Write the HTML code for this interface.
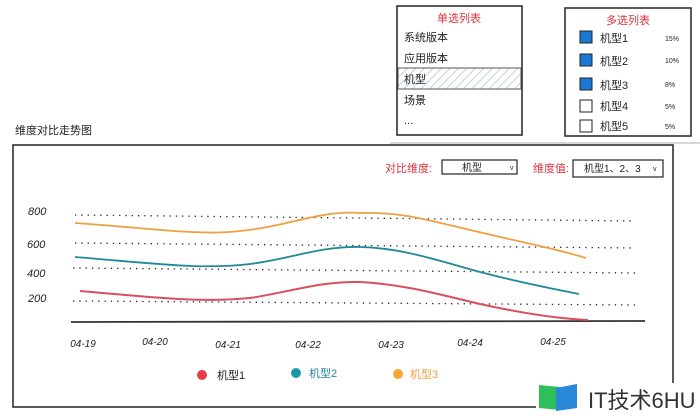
<!DOCTYPE html>
<html><head><meta charset="utf-8"><style>
body{margin:0;background:#fff;width:700px;height:418px;overflow:hidden}
svg{display:block}
text{font-family:"Liberation Sans","Noto Sans CJK SC",sans-serif}
</style></head><body>
<svg width="700" height="418" viewBox="0 0 700 418">
<defs><pattern id="h" width="6" height="6" patternUnits="userSpaceOnUse" patternTransform="rotate(45)"><line x1="0" y1="0" x2="0" y2="6" stroke="#b8c4d4" stroke-width="1.5"/></pattern></defs>
<line x1="390" y1="143" x2="700" y2="143" stroke="#ccc" stroke-width="1.5"/>
<!-- single select -->
<rect x="397" y="6" width="125" height="129" fill="#fff" stroke="#222" stroke-width="1.5"/>
<text x="459" y="22" font-size="11" fill="#d9333f" text-anchor="middle">单选列表</text>
<text x="404" y="41" font-size="11" fill="#222">系统版本</text>
<text x="404" y="62" font-size="11" fill="#222">应用版本</text>
<rect x="398" y="68" width="123" height="21" fill="url(#h)" stroke="#555" stroke-width="1"/>
<text x="404" y="83" font-size="11" fill="#222">机型</text>
<text x="404" y="104" font-size="11" fill="#222">场景</text>
<text x="404" y="124" font-size="11" fill="#222">...</text>
<!-- multi select -->
<rect x="565" y="8" width="126" height="128" fill="#fff" stroke="#222" stroke-width="1.5"/>
<text x="628" y="24" font-size="11" fill="#d9333f" text-anchor="middle">多选列表</text>
<g font-size="11" fill="#222">
<rect x="580" y="31" width="12" height="12" fill="#1a7ad4" stroke="#222"/><text x="600" y="42">机型1</text><text x="665" y="41" font-size="7">15%</text>
<rect x="580" y="54" width="12" height="12" fill="#1a7ad4" stroke="#222"/><text x="600" y="65">机型2</text><text x="665" y="63" font-size="7">10%</text>
<rect x="580" y="78" width="12" height="12" fill="#1a7ad4" stroke="#222"/><text x="600" y="89">机型3</text><text x="665" y="87" font-size="7">8%</text>
<rect x="580" y="100" width="12" height="12" fill="#fff" stroke="#222"/><text x="600" y="110">机型4</text><text x="665" y="109" font-size="7">5%</text>
<rect x="580" y="120" width="12" height="12" fill="#fff" stroke="#222"/><text x="600" y="130">机型5</text><text x="665" y="129" font-size="7">5%</text>
</g>
<text x="15" y="134" font-size="11" fill="#222">维度对比走势图</text>
<rect x="13" y="145" width="660" height="262" fill="none" stroke="#222" stroke-width="1.5"/>
<text x="385" y="172" font-size="11" fill="#d9333f">对比维度:</text>
<rect x="442" y="160" width="75" height="14" fill="#fff" stroke="#222" stroke-width="1.2"/>
<text x="472" y="171" font-size="10" fill="#222" text-anchor="middle">机型</text><text x="510" y="170" font-size="7" fill="#222">v</text>
<text x="533" y="172" font-size="11" fill="#d9333f">维度值:</text>
<rect x="573" y="160" width="90" height="17" fill="#fff" stroke="#222" stroke-width="1.2"/>
<text x="584" y="172" font-size="10" fill="#222">机型1、2、3</text><text x="653" y="171" font-size="7" fill="#222">v</text>
<g stroke="#222" stroke-width="1.3" stroke-dasharray="1.3 5">
<line x1="75" y1="215" x2="635" y2="221"/><line x1="75" y1="243" x2="635" y2="248"/>
<line x1="73" y1="268" x2="638" y2="273"/><line x1="73" y1="301" x2="638" y2="305"/>
</g>
<g font-size="11" fill="#222" font-style="italic">
<text x="28" y="215">800</text><text x="27" y="248">600</text><text x="27" y="277">400</text><text x="28" y="302">200</text>
</g>
<line x1="71" y1="322" x2="645" y2="321" stroke="#333" stroke-width="1.8"/>
<g font-size="10" fill="#222" font-style="italic" text-anchor="middle">
<text x="83" y="347">04-19</text><text x="155" y="345">04-20</text><text x="228" y="348">04-21</text><text x="308" y="348">04-22</text><text x="391" y="348">04-23</text><text x="470" y="346">04-24</text><text x="553" y="345">04-25</text>
</g>
<path d="M75,223 C150,228 200,236 240,231 C290,226 320,210 360,213 C400,212 420,218 470,230 C530,244 560,250 586,258" fill="none" stroke="#f0a040" stroke-width="1.8"/>
<path d="M75,257 C150,263 200,270 250,264 C290,259 320,246 360,247 C400,248 430,258 480,272 C530,285 560,290 579,294" fill="none" stroke="#1e8a98" stroke-width="1.8"/>
<path d="M80,291 C150,297 200,303 250,298 C290,292 320,281 360,282 C400,284 430,292 480,304 C530,315 565,319 588,320" fill="none" stroke="#d8505c" stroke-width="2"/>
<circle cx="202" cy="375" r="5" fill="#e83b47"/><text x="217" y="379" font-size="11" fill="#222">机型1</text>
<circle cx="296" cy="373" r="5" fill="#1998a8"/><text x="309" y="377" font-size="11" fill="#1e8a98">机型2</text>
<circle cx="398" cy="374" r="5" fill="#f6a434"/><text x="410" y="378" font-size="11" fill="#f0a040">机型3</text>
<rect x="536" y="383" width="164" height="35" fill="#fff"/>
<path d="M539,385 L560,387 L560,410 L539,408Z" fill="#2fbf5a"/>
<path d="M556,388 L577,384 L577,408 L556,411Z" fill="#2a88d8"/>
<text x="588" y="408" font-size="22" fill="#333">IT技术6HU</text>
</svg>
</body></html>
